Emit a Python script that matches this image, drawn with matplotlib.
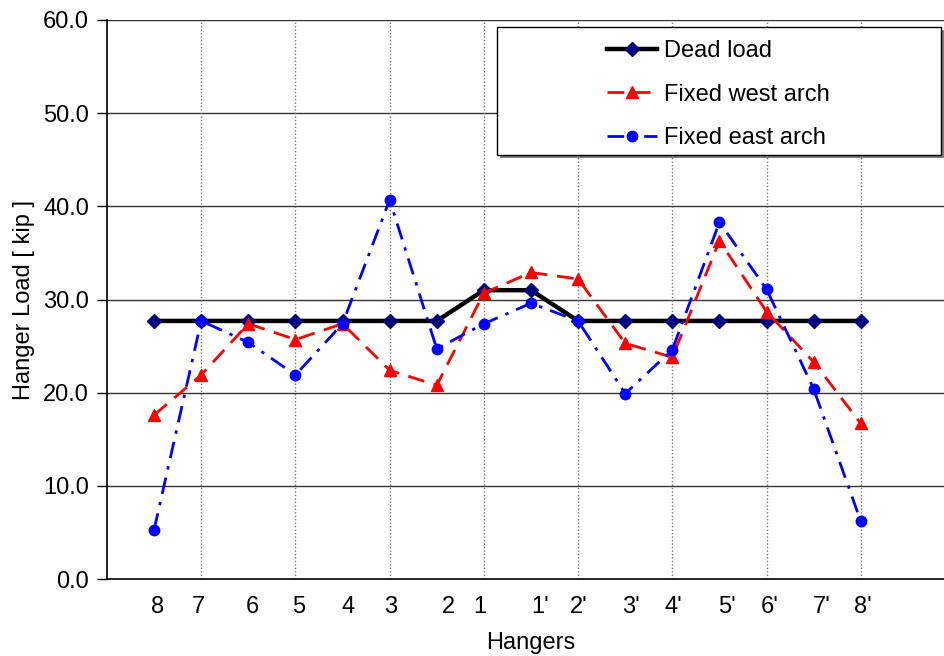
import numpy as np
import matplotlib.pyplot as plt
from matplotlib.patches import Rectangle
from matplotlib.transforms import ScaledTranslation

plt.rcParams['font.family'] = ['Liberation Sans', 'DejaVu Sans']
plt.rcParams['font.size'] = 17

hangers = ["8", "7", "6", "5", "4", "3", "2", "1",
           "1'", "2'", "3'", "4'", "5'", "6'", "7'", "8'"]
dead_load = [27.7, 27.7, 27.7, 27.7, 27.7, 27.7, 27.7, 31.0,
             31.0, 27.7, 27.7, 27.7, 27.7, 27.7, 27.7, 27.7]
fixed_west = [17.6, 21.9, 27.4, 25.7, 27.4, 22.4, 20.8, 30.7,
              32.9, 32.2, 25.3, 23.8, 36.3, 28.7, 23.3, 16.7]
fixed_east = [5.3, 27.7, 25.4, 21.9, 27.4, 40.7, 24.7, 27.4,
              29.6, 27.7, 19.9, 24.6, 38.3, 31.1, 20.4, 6.2]

x = np.arange(1, len(hangers) + 1)

fig = plt.figure(figsize=(9.44, 6.56), dpi=100)
ax = fig.add_axes([107 / 944, 77 / 656, 848 / 944, 559 / 656])

ax.plot(x, dead_load, color='black', lw=3.2, marker='D', ms=7,
        mfc='#000080', mec='#000080', label='Dead load', zorder=3)
ax.plot(x, fixed_west, color='red', lw=2, dashes=(6, 3.5), marker='^', ms=8,
        mfc='red', mec='red', label='Fixed west arch', zorder=4)
ax.plot(x, fixed_east, color='blue', lw=2, dashes=(6, 3, 1.2, 3), marker='o', ms=7.5,
        mfc='blue', mec='blue', label='Fixed east arch', zorder=5)

ax.set_xlim(0, 18)
ax.set_ylim(0, 60)
ax.set_yticks(np.arange(0, 61, 10))
ax.set_yticklabels([f"{v:.1f}" for v in range(0, 61, 10)])
ax.set_xticks(x)
ax.set_xticklabels(hangers)
ax.tick_params(axis='x', length=0, pad=12)
ax.tick_params(axis='y', length=7, width=1, direction='out', pad=6)

# nudge x labels a little, like the original
nudge = [3, -3, 4, 3, 6, 1, 12, -4, 9, 1, 6, 1, 8, 3, 8, 2]
for lab, dx in zip(ax.get_xticklabels(), nudge):
    lab.set_transform(lab.get_transform() + ScaledTranslation(dx / 100, 0, fig.dpi_scale_trans))

for v in range(10, 61, 10):
    ax.axhline(v, color='#333333', lw=1, zorder=1)
for xv in x[1::2]:
    ax.axvline(xv, color='#777777', lw=1, ls=(0, (1, 1.5)), zorder=1)

for s in ['top', 'right']:
    ax.spines[s].set_visible(False)
ax.spines['left'].set_linewidth(1.2)
ax.spines['bottom'].set_linewidth(1.2)

ax.set_xlabel('Hangers', labelpad=10)
ax.set_ylabel('Hanger Load [ kip ]', labelpad=6)

# legend box with shadow
shadow = Rectangle((500 / 944, 1 - 158 / 656), 444 / 944, 128 / 656, transform=fig.transFigure,
                   facecolor='#808080', edgecolor='none', zorder=9)
box = Rectangle((497 / 944, 1 - 155 / 656), 444 / 944, 128 / 656, transform=fig.transFigure,
                facecolor='white', edgecolor='black', lw=1, zorder=10)
fig.patches.extend([shadow, box])
leg = fig.legend(loc='upper left', bbox_to_anchor=(607 / 944, 1 - 40 / 656), frameon=False,
                 borderpad=0, borderaxespad=0, handlelength=2.1, handletextpad=0.3,
                 labelspacing=0.92, fontsize=17)
leg.set_zorder(11)

plt.savefig('out.png', dpi=100)
